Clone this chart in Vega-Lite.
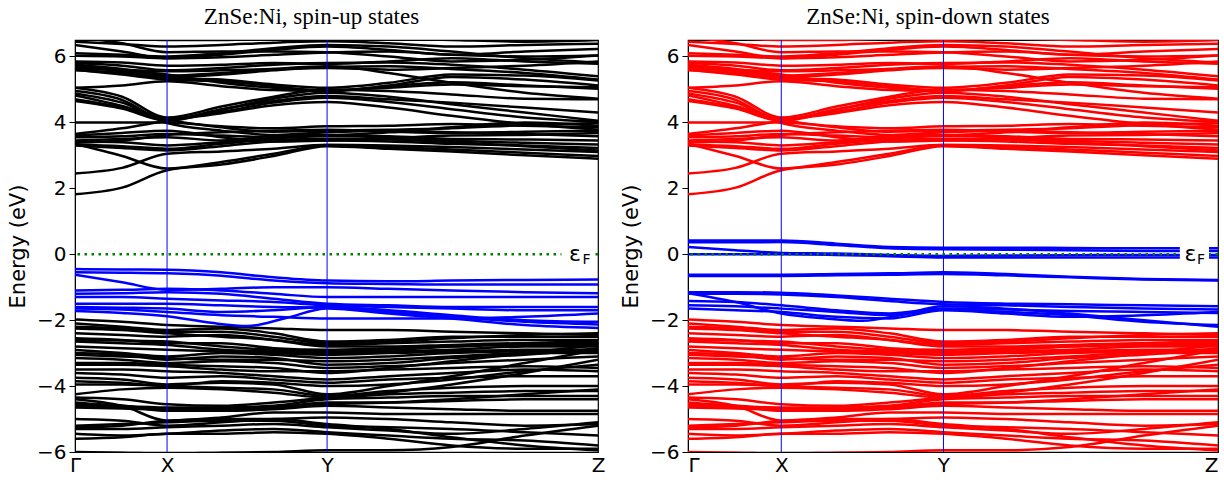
{
"$schema": "https://vega.github.io/schema/vega-lite/v6.json",
"background": "white",
"padding": {"left": 6, "top": 4, "right": 6, "bottom": 2},
"spacing": 13,
"config": {
  "view": {"stroke": "black", "strokeWidth": 1.2},
  "axis": {"labelFont": "DejaVu Sans", "labelFontSize": 20, "labelColor": "black", "titleFont": "DejaVu Sans", "titleFontSize": 21, "titleFontWeight": "normal", "titleColor": "black", "domainColor": "black", "tickColor": "black", "grid": false},
  "title": {"font": "Liberation Serif", "fontSize": 23, "fontWeight": "normal", "color": "black"}
},
"datasets": {
"host": [
{"b":"c1","k":0,"e":1.82},{"b":"c1","k":0.09,"e":2.02},{"b":"c1","k":0.176,"e":2.55},{"b":"c1","k":0.28,"e":2.72},{"b":"c1","k":0.38,"e":2.98},{"b":"c1","k":0.482,"e":3.28},{"b":"c1","k":0.6,"e":3.2},{"b":"c1","k":0.72,"e":3.12},{"b":"c1","k":0.86,"e":3.0},{"b":"c1","k":1,"e":2.9},
{"b":"c2","k":0,"e":3.35},{"b":"c2","k":0.09,"e":2.98},{"b":"c2","k":0.176,"e":2.6},{"b":"c2","k":0.28,"e":2.8},{"b":"c2","k":0.38,"e":3.05},{"b":"c2","k":0.482,"e":3.3},{"b":"c2","k":0.6,"e":3.25},{"b":"c2","k":0.72,"e":3.18},{"b":"c2","k":0.86,"e":3.08},{"b":"c2","k":1,"e":2.98},
{"b":"c3","k":0,"e":2.45},{"b":"c3","k":0.09,"e":2.62},{"b":"c3","k":0.176,"e":3.05},{"b":"c3","k":0.28,"e":3.12},{"b":"c3","k":0.38,"e":3.2},{"b":"c3","k":0.482,"e":3.32},{"b":"c3","k":0.6,"e":3.3},{"b":"c3","k":0.72,"e":3.25},{"b":"c3","k":0.86,"e":3.18},{"b":"c3","k":1,"e":3.1},
{"b":"c4","k":0,"e":3.3},{"b":"c4","k":0.09,"e":3.22},{"b":"c4","k":0.176,"e":3.15},{"b":"c4","k":0.28,"e":3.28},{"b":"c4","k":0.38,"e":3.42},{"b":"c4","k":0.482,"e":3.45},{"b":"c4","k":0.6,"e":3.42},{"b":"c4","k":0.72,"e":3.35},{"b":"c4","k":0.86,"e":3.3},{"b":"c4","k":1,"e":3.22},
{"b":"c5","k":0,"e":3.42},{"b":"c5","k":0.09,"e":3.4},{"b":"c5","k":0.176,"e":3.3},{"b":"c5","k":0.28,"e":3.4},{"b":"c5","k":0.38,"e":3.52},{"b":"c5","k":0.482,"e":3.58},{"b":"c5","k":0.6,"e":3.55},{"b":"c5","k":0.72,"e":3.45},{"b":"c5","k":0.86,"e":3.38},{"b":"c5","k":1,"e":3.33},
{"b":"c6","k":0,"e":3.55},{"b":"c6","k":0.09,"e":3.58},{"b":"c6","k":0.176,"e":3.65},{"b":"c6","k":0.28,"e":3.6},{"b":"c6","k":0.38,"e":3.55},{"b":"c6","k":0.482,"e":3.6},{"b":"c6","k":0.6,"e":3.58},{"b":"c6","k":0.72,"e":3.5},{"b":"c6","k":0.86,"e":3.48},{"b":"c6","k":1,"e":3.45},
{"b":"c7","k":0,"e":3.6},{"b":"c7","k":0.09,"e":3.68},{"b":"c7","k":0.176,"e":3.75},{"b":"c7","k":0.28,"e":3.55},{"b":"c7","k":0.38,"e":3.42},{"b":"c7","k":0.482,"e":3.45},{"b":"c7","k":0.6,"e":3.52},{"b":"c7","k":0.72,"e":3.6},{"b":"c7","k":0.86,"e":3.62},{"b":"c7","k":1,"e":3.68},
{"b":"c8","k":0,"e":3.65},{"b":"c8","k":0.09,"e":3.82},{"b":"c8","k":0.176,"e":4.05},{"b":"c8","k":0.28,"e":4.28},{"b":"c8","k":0.38,"e":4.52},{"b":"c8","k":0.482,"e":4.62},{"b":"c8","k":0.6,"e":4.45},{"b":"c8","k":0.72,"e":4.2},{"b":"c8","k":0.86,"e":3.95},{"b":"c8","k":1,"e":3.78},
{"b":"c9","k":0,"e":4.0},{"b":"c9","k":0.09,"e":4.0},{"b":"c9","k":0.176,"e":4.0},{"b":"c9","k":0.28,"e":3.88},{"b":"c9","k":0.38,"e":3.82},{"b":"c9","k":0.482,"e":3.88},{"b":"c9","k":0.6,"e":3.9},{"b":"c9","k":0.72,"e":3.95},{"b":"c9","k":0.86,"e":3.9},{"b":"c9","k":1,"e":3.85},
{"b":"c10","k":0,"e":4.82},{"b":"c10","k":0.09,"e":4.5},{"b":"c10","k":0.176,"e":4.1},{"b":"c10","k":0.28,"e":3.85},{"b":"c10","k":0.38,"e":3.72},{"b":"c10","k":0.482,"e":3.75},{"b":"c10","k":0.6,"e":3.78},{"b":"c10","k":0.72,"e":3.82},{"b":"c10","k":0.86,"e":3.92},{"b":"c10","k":1,"e":3.98},
{"b":"c11","k":0,"e":4.88},{"b":"c11","k":0.09,"e":4.6},{"b":"c11","k":0.176,"e":4.1},{"b":"c11","k":0.28,"e":4.32},{"b":"c11","k":0.38,"e":4.6},{"b":"c11","k":0.482,"e":4.75},{"b":"c11","k":0.6,"e":4.62},{"b":"c11","k":0.72,"e":4.4},{"b":"c11","k":0.86,"e":4.15},{"b":"c11","k":1,"e":4.02},
{"b":"c12","k":0,"e":4.65},{"b":"c12","k":0.09,"e":4.42},{"b":"c12","k":0.176,"e":4.05},{"b":"c12","k":0.28,"e":4.38},{"b":"c12","k":0.38,"e":4.72},{"b":"c12","k":0.482,"e":4.9},{"b":"c12","k":0.6,"e":4.78},{"b":"c12","k":0.72,"e":4.55},{"b":"c12","k":0.86,"e":4.3},{"b":"c12","k":1,"e":4.05},
{"b":"c13","k":0,"e":5.05},{"b":"c13","k":0.09,"e":4.78},{"b":"c13","k":0.176,"e":4.15},{"b":"c13","k":0.28,"e":4.48},{"b":"c13","k":0.38,"e":4.78},{"b":"c13","k":0.482,"e":5.0},{"b":"c13","k":0.6,"e":4.95},{"b":"c13","k":0.72,"e":4.85},{"b":"c13","k":0.86,"e":4.72},{"b":"c13","k":1,"e":4.7},
{"b":"c14","k":0,"e":4.95},{"b":"c14","k":0.09,"e":4.68},{"b":"c14","k":0.176,"e":3.98},{"b":"c14","k":0.28,"e":3.75},{"b":"c14","k":0.38,"e":3.62},{"b":"c14","k":0.482,"e":3.62},{"b":"c14","k":0.6,"e":3.7},{"b":"c14","k":0.72,"e":3.85},{"b":"c14","k":0.86,"e":4.0},{"b":"c14","k":1,"e":3.9},
{"b":"c15","k":0,"e":5.05},{"b":"c15","k":0.09,"e":5.12},{"b":"c15","k":0.176,"e":5.25},{"b":"c15","k":0.28,"e":5.1},{"b":"c15","k":0.38,"e":4.98},{"b":"c15","k":0.482,"e":4.95},{"b":"c15","k":0.6,"e":5.1},{"b":"c15","k":0.72,"e":5.22},{"b":"c15","k":0.86,"e":5.12},{"b":"c15","k":1,"e":5.02},
{"b":"c16","k":0,"e":5.6},{"b":"c16","k":0.09,"e":5.45},{"b":"c16","k":0.176,"e":5.3},{"b":"c16","k":0.28,"e":5.25},{"b":"c16","k":0.38,"e":5.1},{"b":"c16","k":0.482,"e":4.95},{"b":"c16","k":0.6,"e":5.12},{"b":"c16","k":0.72,"e":5.38},{"b":"c16","k":0.86,"e":5.3},{"b":"c16","k":1,"e":5.12},
{"b":"c17","k":0,"e":5.68},{"b":"c17","k":0.09,"e":5.55},{"b":"c17","k":0.176,"e":5.35},{"b":"c17","k":0.28,"e":5.3},{"b":"c17","k":0.38,"e":5.15},{"b":"c17","k":0.482,"e":5.05},{"b":"c17","k":0.6,"e":5.2},{"b":"c17","k":0.72,"e":5.45},{"b":"c17","k":0.86,"e":5.42},{"b":"c17","k":1,"e":5.27},
{"b":"c18","k":0,"e":5.75},{"b":"c18","k":0.09,"e":5.62},{"b":"c18","k":0.176,"e":5.42},{"b":"c18","k":0.28,"e":5.5},{"b":"c18","k":0.38,"e":5.62},{"b":"c18","k":0.482,"e":5.7},{"b":"c18","k":0.6,"e":5.5},{"b":"c18","k":0.72,"e":5.2},{"b":"c18","k":0.86,"e":4.9},{"b":"c18","k":1,"e":4.72},
{"b":"c19","k":0,"e":5.8},{"b":"c19","k":0.09,"e":5.72},{"b":"c19","k":0.176,"e":5.58},{"b":"c19","k":0.28,"e":5.65},{"b":"c19","k":0.38,"e":5.75},{"b":"c19","k":0.482,"e":5.8},{"b":"c19","k":0.6,"e":5.82},{"b":"c19","k":0.72,"e":5.75},{"b":"c19","k":0.86,"e":5.6},{"b":"c19","k":1,"e":5.4},
{"b":"c20","k":0,"e":5.85},{"b":"c20","k":0.09,"e":5.82},{"b":"c20","k":0.176,"e":5.72},{"b":"c20","k":0.28,"e":5.75},{"b":"c20","k":0.38,"e":5.8},{"b":"c20","k":0.482,"e":5.78},{"b":"c20","k":0.6,"e":5.85},{"b":"c20","k":0.72,"e":5.95},{"b":"c20","k":0.86,"e":5.85},{"b":"c20","k":1,"e":5.78},
{"b":"c21","k":0,"e":6.02},{"b":"c21","k":0.09,"e":6.0},{"b":"c21","k":0.176,"e":5.95},{"b":"c21","k":0.28,"e":5.98},{"b":"c21","k":0.38,"e":6.05},{"b":"c21","k":0.482,"e":6.12},{"b":"c21","k":0.6,"e":6.15},{"b":"c21","k":0.72,"e":6.05},{"b":"c21","k":0.86,"e":6.0},{"b":"c21","k":1,"e":6.03},
{"b":"c22","k":0,"e":6.35},{"b":"c22","k":0.09,"e":6.15},{"b":"c22","k":0.176,"e":5.95},{"b":"c22","k":0.28,"e":6.05},{"b":"c22","k":0.38,"e":6.2},{"b":"c22","k":0.482,"e":6.3},{"b":"c22","k":0.6,"e":6.2},{"b":"c22","k":0.72,"e":6.05},{"b":"c22","k":0.86,"e":6.15},{"b":"c22","k":1,"e":6.23},
{"b":"c23","k":0,"e":6.45},{"b":"c23","k":0.09,"e":6.38},{"b":"c23","k":0.176,"e":6.3},{"b":"c23","k":0.28,"e":6.35},{"b":"c23","k":0.38,"e":6.42},{"b":"c23","k":0.482,"e":6.46},{"b":"c23","k":0.6,"e":6.4},{"b":"c23","k":0.72,"e":6.3},{"b":"c23","k":0.86,"e":6.35},{"b":"c23","k":1,"e":6.39},
{"b":"c24","k":0,"e":6.6},{"b":"c24","k":0.09,"e":6.55},{"b":"c24","k":0.176,"e":6.5},{"b":"c24","k":0.28,"e":6.5},{"b":"c24","k":0.38,"e":6.55},{"b":"c24","k":0.482,"e":6.6},{"b":"c24","k":0.6,"e":6.55},{"b":"c24","k":0.72,"e":6.5},{"b":"c24","k":0.86,"e":6.45},{"b":"c24","k":1,"e":6.5},
{"b":"c25","k":0,"e":6.6},{"b":"c25","k":0.09,"e":6.4},{"b":"c25","k":0.176,"e":6.13},{"b":"c25","k":0.28,"e":6.15},{"b":"c25","k":0.38,"e":6.15},{"b":"c25","k":0.482,"e":6.13},{"b":"c25","k":0.6,"e":6.0},{"b":"c25","k":0.72,"e":5.85},{"b":"c25","k":0.86,"e":5.9},{"b":"c25","k":1,"e":6.03},
{"b":"c26","k":0,"e":3.32},{"b":"c26","k":0.09,"e":3.28},{"b":"c26","k":0.176,"e":3.2},{"b":"c26","k":0.28,"e":3.35},{"b":"c26","k":0.38,"e":3.48},{"b":"c26","k":0.482,"e":3.5},{"b":"c26","k":0.6,"e":3.48},{"b":"c26","k":0.72,"e":3.4},{"b":"c26","k":0.86,"e":3.28},{"b":"c26","k":1,"e":3.15},
{"b":"c27","k":0,"e":3.45},{"b":"c27","k":0.09,"e":3.5},{"b":"c27","k":0.176,"e":3.55},{"b":"c27","k":0.28,"e":3.45},{"b":"c27","k":0.38,"e":3.6},{"b":"c27","k":0.482,"e":3.7},{"b":"c27","k":0.6,"e":3.75},{"b":"c27","k":0.72,"e":3.7},{"b":"c27","k":0.86,"e":3.65},{"b":"c27","k":1,"e":3.58},
{"b":"c28","k":0,"e":4.7},{"b":"c28","k":0.09,"e":4.45},{"b":"c28","k":0.176,"e":4.08},{"b":"c28","k":0.28,"e":4.4},{"b":"c28","k":0.38,"e":4.65},{"b":"c28","k":0.482,"e":4.8},{"b":"c28","k":0.6,"e":4.7},{"b":"c28","k":0.72,"e":4.6},{"b":"c28","k":0.86,"e":4.45},{"b":"c28","k":1,"e":4.3},
{"b":"c29","k":0,"e":5.58},{"b":"c29","k":0.09,"e":5.5},{"b":"c29","k":0.176,"e":5.38},{"b":"c29","k":0.28,"e":5.45},{"b":"c29","k":0.38,"e":5.58},{"b":"c29","k":0.482,"e":5.68},{"b":"c29","k":0.6,"e":5.7},{"b":"c29","k":0.72,"e":5.62},{"b":"c29","k":0.86,"e":5.5},{"b":"c29","k":1,"e":5.3},
{"b":"c30","k":0,"e":5.72},{"b":"c30","k":0.09,"e":5.6},{"b":"c30","k":0.176,"e":5.45},{"b":"c30","k":0.28,"e":5.2},{"b":"c30","k":0.38,"e":5.05},{"b":"c30","k":0.482,"e":4.98},{"b":"c30","k":0.6,"e":5.05},{"b":"c30","k":0.72,"e":5.15},{"b":"c30","k":0.86,"e":5.1},{"b":"c30","k":1,"e":5.07},
{"b":"c31","k":0,"e":6.1},{"b":"c31","k":0.09,"e":6.05},{"b":"c31","k":0.176,"e":6.0},{"b":"c31","k":0.28,"e":6.1},{"b":"c31","k":0.38,"e":6.25},{"b":"c31","k":0.482,"e":6.35},{"b":"c31","k":0.6,"e":6.3},{"b":"c31","k":0.72,"e":6.15},{"b":"c31","k":0.86,"e":5.95},{"b":"c31","k":1,"e":5.82},
{"b":"c32","k":0,"e":3.38},{"b":"c32","k":0.09,"e":3.45},{"b":"c32","k":0.176,"e":3.62},{"b":"c32","k":0.28,"e":3.7},{"b":"c32","k":0.38,"e":3.75},{"b":"c32","k":0.482,"e":3.78},{"b":"c32","k":0.6,"e":3.72},{"b":"c32","k":0.72,"e":3.68},{"b":"c32","k":0.86,"e":3.72},{"b":"c32","k":1,"e":3.75},
{"b":"c33","k":0,"e":5.62},{"b":"c33","k":0.09,"e":5.6},{"b":"c33","k":0.176,"e":5.55},{"b":"c33","k":0.28,"e":5.58},{"b":"c33","k":0.38,"e":5.62},{"b":"c33","k":0.482,"e":5.65},{"b":"c33","k":0.6,"e":5.6},{"b":"c33","k":0.72,"e":5.65},{"b":"c33","k":0.86,"e":5.72},{"b":"c33","k":1,"e":5.85},
{"b":"v1","k":0,"e":-1.98},{"b":"v1","k":0.09,"e":-2.05},{"b":"v1","k":0.176,"e":-2.15},{"b":"v1","k":0.28,"e":-2.2},{"b":"v1","k":0.38,"e":-2.25},{"b":"v1","k":0.482,"e":-2.3},{"b":"v1","k":0.6,"e":-2.3},{"b":"v1","k":0.72,"e":-2.35},{"b":"v1","k":0.86,"e":-2.4},{"b":"v1","k":1,"e":-2.45},
{"b":"v2","k":0,"e":-2.1},{"b":"v2","k":0.09,"e":-2.2},{"b":"v2","k":0.176,"e":-2.3},{"b":"v2","k":0.28,"e":-2.25},{"b":"v2","k":0.38,"e":-2.4},{"b":"v2","k":0.482,"e":-2.65},{"b":"v2","k":0.6,"e":-2.6},{"b":"v2","k":0.72,"e":-2.5},{"b":"v2","k":0.86,"e":-2.5},{"b":"v2","k":1,"e":-2.5},
{"b":"v3","k":0,"e":-2.25},{"b":"v3","k":0.09,"e":-2.3},{"b":"v3","k":0.176,"e":-2.4},{"b":"v3","k":0.28,"e":-2.5},{"b":"v3","k":0.38,"e":-2.6},{"b":"v3","k":0.482,"e":-2.75},{"b":"v3","k":0.6,"e":-2.7},{"b":"v3","k":0.72,"e":-2.65},{"b":"v3","k":0.86,"e":-2.6},{"b":"v3","k":1,"e":-2.6},
{"b":"v4","k":0,"e":-2.4},{"b":"v4","k":0.09,"e":-2.45},{"b":"v4","k":0.176,"e":-2.5},{"b":"v4","k":0.28,"e":-2.45},{"b":"v4","k":0.38,"e":-2.6},{"b":"v4","k":0.482,"e":-2.8},{"b":"v4","k":0.6,"e":-2.8},{"b":"v4","k":0.72,"e":-2.75},{"b":"v4","k":0.86,"e":-2.7},{"b":"v4","k":1,"e":-2.7},
{"b":"v5","k":0,"e":-2.55},{"b":"v5","k":0.09,"e":-2.6},{"b":"v5","k":0.176,"e":-2.7},{"b":"v5","k":0.28,"e":-2.7},{"b":"v5","k":0.38,"e":-2.85},{"b":"v5","k":0.482,"e":-2.9},{"b":"v5","k":0.6,"e":-2.85},{"b":"v5","k":0.72,"e":-2.8},{"b":"v5","k":0.86,"e":-2.75},{"b":"v5","k":1,"e":-2.75},
{"b":"v6","k":0,"e":-2.65},{"b":"v6","k":0.09,"e":-2.7},{"b":"v6","k":0.176,"e":-2.75},{"b":"v6","k":0.28,"e":-2.9},{"b":"v6","k":0.38,"e":-2.95},{"b":"v6","k":0.482,"e":-3.0},{"b":"v6","k":0.6,"e":-2.95},{"b":"v6","k":0.72,"e":-2.9},{"b":"v6","k":0.86,"e":-2.8},{"b":"v6","k":1,"e":-2.8},
{"b":"v7","k":0,"e":-2.8},{"b":"v7","k":0.09,"e":-2.85},{"b":"v7","k":0.176,"e":-2.9},{"b":"v7","k":0.28,"e":-2.95},{"b":"v7","k":0.38,"e":-3.0},{"b":"v7","k":0.482,"e":-3.05},{"b":"v7","k":0.6,"e":-3.0},{"b":"v7","k":0.72,"e":-2.95},{"b":"v7","k":0.86,"e":-2.9},{"b":"v7","k":1,"e":-2.9},
{"b":"v8","k":0,"e":-2.9},{"b":"v8","k":0.09,"e":-3.0},{"b":"v8","k":0.176,"e":-3.1},{"b":"v8","k":0.28,"e":-3.0},{"b":"v8","k":0.38,"e":-3.05},{"b":"v8","k":0.482,"e":-3.15},{"b":"v8","k":0.6,"e":-3.1},{"b":"v8","k":0.72,"e":-3.0},{"b":"v8","k":0.86,"e":-2.95},{"b":"v8","k":1,"e":-2.95},
{"b":"v9","k":0,"e":-3.05},{"b":"v9","k":0.09,"e":-3.1},{"b":"v9","k":0.176,"e":-3.15},{"b":"v9","k":0.28,"e":-3.2},{"b":"v9","k":0.38,"e":-3.2},{"b":"v9","k":0.482,"e":-3.25},{"b":"v9","k":0.6,"e":-3.2},{"b":"v9","k":0.72,"e":-3.1},{"b":"v9","k":0.86,"e":-3.0},{"b":"v9","k":1,"e":-3.0},
{"b":"v10","k":0,"e":-3.15},{"b":"v10","k":0.09,"e":-3.2},{"b":"v10","k":0.176,"e":-3.3},{"b":"v10","k":0.28,"e":-3.25},{"b":"v10","k":0.38,"e":-3.3},{"b":"v10","k":0.482,"e":-3.45},{"b":"v10","k":0.6,"e":-3.4},{"b":"v10","k":0.72,"e":-3.3},{"b":"v10","k":0.86,"e":-3.2},{"b":"v10","k":1,"e":-3.1},
{"b":"v11","k":0,"e":-3.35},{"b":"v11","k":0.09,"e":-3.35},{"b":"v11","k":0.176,"e":-3.4},{"b":"v11","k":0.28,"e":-3.5},{"b":"v11","k":0.38,"e":-3.55},{"b":"v11","k":0.482,"e":-3.55},{"b":"v11","k":0.6,"e":-3.5},{"b":"v11","k":0.72,"e":-3.45},{"b":"v11","k":0.86,"e":-3.4},{"b":"v11","k":1,"e":-3.45},
{"b":"v12","k":0,"e":-3.5},{"b":"v12","k":0.09,"e":-3.5},{"b":"v12","k":0.176,"e":-3.55},{"b":"v12","k":0.28,"e":-3.6},{"b":"v12","k":0.38,"e":-3.7},{"b":"v12","k":0.482,"e":-3.8},{"b":"v12","k":0.6,"e":-3.7},{"b":"v12","k":0.72,"e":-3.6},{"b":"v12","k":0.86,"e":-3.5},{"b":"v12","k":1,"e":-3.55},
{"b":"v13","k":0,"e":-3.6},{"b":"v13","k":0.09,"e":-3.65},{"b":"v13","k":0.176,"e":-3.75},{"b":"v13","k":0.28,"e":-3.7},{"b":"v13","k":0.38,"e":-3.8},{"b":"v13","k":0.482,"e":-3.9},{"b":"v13","k":0.6,"e":-3.8},{"b":"v13","k":0.72,"e":-3.75},{"b":"v13","k":0.86,"e":-3.7},{"b":"v13","k":1,"e":-3.7},
{"b":"v14","k":0,"e":-3.75},{"b":"v14","k":0.09,"e":-3.8},{"b":"v14","k":0.176,"e":-3.95},{"b":"v14","k":0.28,"e":-3.9},{"b":"v14","k":0.38,"e":-3.95},{"b":"v14","k":0.482,"e":-4.25},{"b":"v14","k":0.6,"e":-4.0},{"b":"v14","k":0.72,"e":-3.7},{"b":"v14","k":0.86,"e":-3.3},{"b":"v14","k":1,"e":-2.9},
{"b":"v15","k":0,"e":-3.95},{"b":"v15","k":0.09,"e":-3.95},{"b":"v15","k":0.176,"e":-4.0},{"b":"v15","k":0.28,"e":-4.05},{"b":"v15","k":0.38,"e":-4.1},{"b":"v15","k":0.482,"e":-4.3},{"b":"v15","k":0.6,"e":-4.15},{"b":"v15","k":0.72,"e":-4.05},{"b":"v15","k":0.86,"e":-4.0},{"b":"v15","k":1,"e":-4.0},
{"b":"v16","k":0,"e":-4.25},{"b":"v16","k":0.09,"e":-4.1},{"b":"v16","k":0.176,"e":-4.05},{"b":"v16","k":0.28,"e":-4.1},{"b":"v16","k":0.38,"e":-4.2},{"b":"v16","k":0.482,"e":-4.35},{"b":"v16","k":0.6,"e":-4.25},{"b":"v16","k":0.72,"e":-4.2},{"b":"v16","k":0.86,"e":-4.15},{"b":"v16","k":1,"e":-4.15},
{"b":"v17","k":0,"e":-4.35},{"b":"v17","k":0.09,"e":-4.4},{"b":"v17","k":0.176,"e":-4.55},{"b":"v17","k":0.28,"e":-4.6},{"b":"v17","k":0.38,"e":-4.5},{"b":"v17","k":0.482,"e":-4.35},{"b":"v17","k":0.6,"e":-4.2},{"b":"v17","k":0.72,"e":-3.95},{"b":"v17","k":0.86,"e":-3.6},{"b":"v17","k":1,"e":-3.2},
{"b":"v18","k":0,"e":-4.5},{"b":"v18","k":0.09,"e":-4.6},{"b":"v18","k":0.176,"e":-4.65},{"b":"v18","k":0.28,"e":-4.65},{"b":"v18","k":0.38,"e":-4.6},{"b":"v18","k":0.482,"e":-4.4},{"b":"v18","k":0.6,"e":-4.35},{"b":"v18","k":0.72,"e":-4.3},{"b":"v18","k":0.86,"e":-4.3},{"b":"v18","k":1,"e":-4.3},
{"b":"v19","k":0,"e":-4.6},{"b":"v19","k":0.09,"e":-4.65},{"b":"v19","k":0.176,"e":-4.7},{"b":"v19","k":0.28,"e":-4.7},{"b":"v19","k":0.38,"e":-4.65},{"b":"v19","k":0.482,"e":-4.5},{"b":"v19","k":0.6,"e":-4.5},{"b":"v19","k":0.72,"e":-4.45},{"b":"v19","k":0.86,"e":-4.4},{"b":"v19","k":1,"e":-4.4},
{"b":"v20","k":0,"e":-4.55},{"b":"v20","k":0.09,"e":-4.6},{"b":"v20","k":0.176,"e":-4.75},{"b":"v20","k":0.28,"e":-4.75},{"b":"v20","k":0.38,"e":-4.7},{"b":"v20","k":0.482,"e":-4.6},{"b":"v20","k":0.6,"e":-4.65},{"b":"v20","k":0.72,"e":-4.7},{"b":"v20","k":0.86,"e":-4.75},{"b":"v20","k":1,"e":-4.75},
{"b":"v21","k":0,"e":-4.4},{"b":"v21","k":0.09,"e":-4.6},{"b":"v21","k":0.176,"e":-5.05},{"b":"v21","k":0.28,"e":-4.95},{"b":"v21","k":0.38,"e":-4.8},{"b":"v21","k":0.482,"e":-4.8},{"b":"v21","k":0.6,"e":-4.85},{"b":"v21","k":0.72,"e":-4.85},{"b":"v21","k":0.86,"e":-4.85},{"b":"v21","k":1,"e":-4.85},
{"b":"v22","k":0,"e":-5.25},{"b":"v22","k":0.09,"e":-5.2},{"b":"v22","k":0.176,"e":-5.05},{"b":"v22","k":0.28,"e":-5.0},{"b":"v22","k":0.38,"e":-5.0},{"b":"v22","k":0.482,"e":-5.15},{"b":"v22","k":0.6,"e":-5.3},{"b":"v22","k":0.72,"e":-5.55},{"b":"v22","k":0.86,"e":-5.8},{"b":"v22","k":1,"e":-5.95},
{"b":"v23","k":0,"e":-5.3},{"b":"v23","k":0.09,"e":-5.3},{"b":"v23","k":0.176,"e":-5.25},{"b":"v23","k":0.28,"e":-5.2},{"b":"v23","k":0.38,"e":-5.15},{"b":"v23","k":0.482,"e":-5.25},{"b":"v23","k":0.6,"e":-5.35},{"b":"v23","k":0.72,"e":-5.45},{"b":"v23","k":0.86,"e":-5.3},{"b":"v23","k":1,"e":-5.1},
{"b":"v24","k":0,"e":-5.45},{"b":"v24","k":0.09,"e":-5.5},{"b":"v24","k":0.176,"e":-5.45},{"b":"v24","k":0.28,"e":-5.35},{"b":"v24","k":0.38,"e":-5.3},{"b":"v24","k":0.482,"e":-5.4},{"b":"v24","k":0.6,"e":-5.5},{"b":"v24","k":0.72,"e":-5.6},{"b":"v24","k":0.86,"e":-5.65},{"b":"v24","k":1,"e":-5.8},
{"b":"v25","k":0,"e":-5.6},{"b":"v25","k":0.09,"e":-5.55},{"b":"v25","k":0.176,"e":-5.45},{"b":"v25","k":0.28,"e":-5.45},{"b":"v25","k":0.38,"e":-5.4},{"b":"v25","k":0.482,"e":-5.45},{"b":"v25","k":0.6,"e":-5.6},{"b":"v25","k":0.72,"e":-5.8},{"b":"v25","k":0.86,"e":-5.9},{"b":"v25","k":1,"e":-5.9},
{"b":"v26","k":0,"e":-6.0},{"b":"v26","k":0.09,"e":-6.02},{"b":"v26","k":0.176,"e":-6.05},{"b":"v26","k":0.28,"e":-6.02},{"b":"v26","k":0.38,"e":-6.0},{"b":"v26","k":0.482,"e":-5.95},{"b":"v26","k":0.6,"e":-5.95},{"b":"v26","k":0.72,"e":-5.85},{"b":"v26","k":0.86,"e":-5.5},{"b":"v26","k":1,"e":-5.2},
{"b":"v27","k":0,"e":-5.0},{"b":"v27","k":0.09,"e":-5.05},{"b":"v27","k":0.176,"e":-5.2},{"b":"v27","k":0.28,"e":-5.1},{"b":"v27","k":0.38,"e":-5.0},{"b":"v27","k":0.482,"e":-4.95},{"b":"v27","k":0.6,"e":-5.0},{"b":"v27","k":0.72,"e":-5.1},{"b":"v27","k":0.86,"e":-5.2},{"b":"v27","k":1,"e":-5.15},
{"b":"v28","k":0,"e":-3.3},{"b":"v28","k":0.09,"e":-3.3},{"b":"v28","k":0.176,"e":-3.35},{"b":"v28","k":0.28,"e":-3.4},{"b":"v28","k":0.38,"e":-3.45},{"b":"v28","k":0.482,"e":-3.6},{"b":"v28","k":0.6,"e":-3.45},{"b":"v28","k":0.72,"e":-3.25},{"b":"v28","k":0.86,"e":-3.0},{"b":"v28","k":1,"e":-2.75},
{"b":"v29","k":0,"e":-2.2},{"b":"v29","k":0.09,"e":-2.25},{"b":"v29","k":0.176,"e":-2.35},{"b":"v29","k":0.28,"e":-2.35},{"b":"v29","k":0.38,"e":-2.5},{"b":"v29","k":0.482,"e":-2.7},{"b":"v29","k":0.6,"e":-2.65},{"b":"v29","k":0.72,"e":-2.55},{"b":"v29","k":0.86,"e":-2.45},{"b":"v29","k":1,"e":-2.4},
{"b":"v30","k":0,"e":-2.6},{"b":"v30","k":0.09,"e":-2.62},{"b":"v30","k":0.176,"e":-2.65},{"b":"v30","k":0.28,"e":-2.8},{"b":"v30","k":0.38,"e":-2.9},{"b":"v30","k":0.482,"e":-2.95},{"b":"v30","k":0.6,"e":-2.9},{"b":"v30","k":0.72,"e":-2.8},{"b":"v30","k":0.86,"e":-2.7},{"b":"v30","k":1,"e":-2.65},
{"b":"v31","k":0,"e":-3.0},{"b":"v31","k":0.09,"e":-3.05},{"b":"v31","k":0.176,"e":-3.2},{"b":"v31","k":0.28,"e":-3.1},{"b":"v31","k":0.38,"e":-3.15},{"b":"v31","k":0.482,"e":-3.35},{"b":"v31","k":0.6,"e":-3.3},{"b":"v31","k":0.72,"e":-3.15},{"b":"v31","k":0.86,"e":-3.05},{"b":"v31","k":1,"e":-2.85},
{"b":"v32","k":0,"e":-3.85},{"b":"v32","k":0.09,"e":-3.9},{"b":"v32","k":0.176,"e":-4.0},{"b":"v32","k":0.28,"e":-3.85},{"b":"v32","k":0.38,"e":-3.9},{"b":"v32","k":0.482,"e":-4.0},{"b":"v32","k":0.6,"e":-3.95},{"b":"v32","k":0.72,"e":-3.8},{"b":"v32","k":0.86,"e":-3.55},{"b":"v32","k":1,"e":-3.35},
{"b":"v33","k":0,"e":-4.65},{"b":"v33","k":0.09,"e":-4.68},{"b":"v33","k":0.176,"e":-4.72},{"b":"v33","k":0.28,"e":-4.72},{"b":"v33","k":0.38,"e":-4.68},{"b":"v33","k":0.482,"e":-4.55},{"b":"v33","k":0.6,"e":-4.5},{"b":"v33","k":0.72,"e":-4.4},{"b":"v33","k":0.86,"e":-4.25},{"b":"v33","k":1,"e":-4.1},
{"b":"v34","k":0,"e":-5.2},{"b":"v34","k":0.09,"e":-5.15},{"b":"v34","k":0.176,"e":-5.1},{"b":"v34","k":0.28,"e":-5.05},{"b":"v34","k":0.38,"e":-5.05},{"b":"v34","k":0.482,"e":-5.2},{"b":"v34","k":0.6,"e":-5.25},{"b":"v34","k":0.72,"e":-5.3},{"b":"v34","k":0.86,"e":-5.4},{"b":"v34","k":1,"e":-5.5}
],
"up": [
{"b":"d1","k":0,"e":-0.45},{"b":"d1","k":0.09,"e":-0.46},{"b":"d1","k":0.176,"e":-0.47},{"b":"d1","k":0.28,"e":-0.55},{"b":"d1","k":0.38,"e":-0.7},{"b":"d1","k":0.482,"e":-0.8},{"b":"d1","k":0.6,"e":-0.82},{"b":"d1","k":0.72,"e":-0.8},{"b":"d1","k":0.86,"e":-0.78},{"b":"d1","k":1,"e":-0.77},
{"b":"d2","k":0,"e":-0.55},{"b":"d2","k":0.09,"e":-0.56},{"b":"d2","k":0.176,"e":-0.58},{"b":"d2","k":0.28,"e":-0.65},{"b":"d2","k":0.38,"e":-0.8},{"b":"d2","k":0.482,"e":-0.88},{"b":"d2","k":0.6,"e":-0.9},{"b":"d2","k":0.72,"e":-0.92},{"b":"d2","k":0.86,"e":-0.92},{"b":"d2","k":1,"e":-0.92},
{"b":"d3","k":0,"e":-0.62},{"b":"d3","k":0.09,"e":-0.85},{"b":"d3","k":0.176,"e":-1.08},{"b":"d3","k":0.28,"e":-1.05},{"b":"d3","k":0.38,"e":-1.0},{"b":"d3","k":0.482,"e":-1.0},{"b":"d3","k":0.6,"e":-1.05},{"b":"d3","k":0.72,"e":-1.1},{"b":"d3","k":0.86,"e":-1.15},{"b":"d3","k":1,"e":-1.18},
{"b":"d4","k":0,"e":-1.1},{"b":"d4","k":0.09,"e":-1.08},{"b":"d4","k":0.176,"e":-1.05},{"b":"d4","k":0.28,"e":-1.1},{"b":"d4","k":0.38,"e":-1.2},{"b":"d4","k":0.482,"e":-1.3},{"b":"d4","k":0.6,"e":-1.3},{"b":"d4","k":0.72,"e":-1.3},{"b":"d4","k":0.86,"e":-1.3},{"b":"d4","k":1,"e":-1.3},
{"b":"d5","k":0,"e":-1.2},{"b":"d5","k":0.09,"e":-1.18},{"b":"d5","k":0.176,"e":-1.15},{"b":"d5","k":0.28,"e":-1.2},{"b":"d5","k":0.38,"e":-1.35},{"b":"d5","k":0.482,"e":-1.5},{"b":"d5","k":0.6,"e":-1.55},{"b":"d5","k":0.72,"e":-1.6},{"b":"d5","k":0.86,"e":-1.6},{"b":"d5","k":1,"e":-1.6},
{"b":"d6","k":0,"e":-1.3},{"b":"d6","k":0.09,"e":-1.3},{"b":"d6","k":0.176,"e":-1.35},{"b":"d6","k":0.28,"e":-1.4},{"b":"d6","k":0.38,"e":-1.45},{"b":"d6","k":0.482,"e":-1.55},{"b":"d6","k":0.6,"e":-1.6},{"b":"d6","k":0.72,"e":-1.65},{"b":"d6","k":0.86,"e":-1.7},{"b":"d6","k":1,"e":-1.7},
{"b":"d7","k":0,"e":-1.5},{"b":"d7","k":0.09,"e":-1.5},{"b":"d7","k":0.176,"e":-1.5},{"b":"d7","k":0.28,"e":-1.55},{"b":"d7","k":0.38,"e":-1.6},{"b":"d7","k":0.482,"e":-1.62},{"b":"d7","k":0.6,"e":-1.75},{"b":"d7","k":0.72,"e":-1.9},{"b":"d7","k":0.86,"e":-2.05},{"b":"d7","k":1,"e":-2.13},
{"b":"d8","k":0,"e":-1.6},{"b":"d8","k":0.09,"e":-1.62},{"b":"d8","k":0.176,"e":-1.65},{"b":"d8","k":0.28,"e":-1.75},{"b":"d8","k":0.38,"e":-1.7},{"b":"d8","k":0.482,"e":-1.6},{"b":"d8","k":0.6,"e":-1.7},{"b":"d8","k":0.72,"e":-1.85},{"b":"d8","k":0.86,"e":-2.0},{"b":"d8","k":1,"e":-2.05},
{"b":"d9","k":0,"e":-1.72},{"b":"d9","k":0.09,"e":-1.78},{"b":"d9","k":0.176,"e":-1.88},{"b":"d9","k":0.26,"e":-2.08},{"b":"d9","k":0.33,"e":-2.18},{"b":"d9","k":0.4,"e":-1.95},{"b":"d9","k":0.482,"e":-1.65},{"b":"d9","k":0.6,"e":-1.8},{"b":"d9","k":0.72,"e":-1.95},{"b":"d9","k":0.86,"e":-2.15},{"b":"d9","k":1,"e":-2.24},
{"b":"d10","k":0,"e":-1.65},{"b":"d10","k":0.09,"e":-1.68},{"b":"d10","k":0.176,"e":-1.75},{"b":"d10","k":0.28,"e":-1.85},{"b":"d10","k":0.38,"e":-1.9},{"b":"d10","k":0.482,"e":-1.95},{"b":"d10","k":0.6,"e":-1.95},{"b":"d10","k":0.72,"e":-1.95},{"b":"d10","k":0.86,"e":-1.9},{"b":"d10","k":1,"e":-1.8}
],
"down": [
{"b":"r1","k":0,"e":0.42},{"b":"r1","k":0.09,"e":0.42},{"b":"r1","k":0.176,"e":0.42},{"b":"r1","k":0.28,"e":0.32},{"b":"r1","k":0.38,"e":0.22},{"b":"r1","k":0.482,"e":0.2},{"b":"r1","k":0.6,"e":0.2},{"b":"r1","k":0.72,"e":0.19},{"b":"r1","k":0.86,"e":0.18},{"b":"r1","k":1,"e":0.18},
{"b":"r2","k":0,"e":0.36},{"b":"r2","k":0.09,"e":0.36},{"b":"r2","k":0.176,"e":0.37},{"b":"r2","k":0.28,"e":0.28},{"b":"r2","k":0.38,"e":0.18},{"b":"r2","k":0.482,"e":0.15},{"b":"r2","k":0.6,"e":0.14},{"b":"r2","k":0.72,"e":0.12},{"b":"r2","k":0.86,"e":0.1},{"b":"r2","k":1,"e":0.1},
{"b":"r3","k":0,"e":0.22},{"b":"r3","k":0.09,"e":0.12},{"b":"r3","k":0.176,"e":0.04},{"b":"r3","k":0.28,"e":0.02},{"b":"r3","k":0.38,"e":-0.02},{"b":"r3","k":0.482,"e":-0.05},{"b":"r3","k":0.6,"e":-0.04},{"b":"r3","k":0.72,"e":-0.03},{"b":"r3","k":0.86,"e":-0.02},{"b":"r3","k":1,"e":-0.02},
{"b":"r4","k":0,"e":0.0},{"b":"r4","k":0.09,"e":0.0},{"b":"r4","k":0.176,"e":0.0},{"b":"r4","k":0.28,"e":-0.02},{"b":"r4","k":0.38,"e":-0.06},{"b":"r4","k":0.482,"e":-0.1},{"b":"r4","k":0.6,"e":-0.1},{"b":"r4","k":0.72,"e":-0.1},{"b":"r4","k":0.86,"e":-0.1},{"b":"r4","k":1,"e":-0.1},
{"b":"r5","k":0,"e":-0.62},{"b":"r5","k":0.09,"e":-0.62},{"b":"r5","k":0.176,"e":-0.62},{"b":"r5","k":0.28,"e":-0.6},{"b":"r5","k":0.38,"e":-0.58},{"b":"r5","k":0.482,"e":-0.55},{"b":"r5","k":0.6,"e":-0.6},{"b":"r5","k":0.72,"e":-0.68},{"b":"r5","k":0.86,"e":-0.75},{"b":"r5","k":1,"e":-0.78},
{"b":"r6","k":0,"e":-0.66},{"b":"r6","k":0.09,"e":-0.66},{"b":"r6","k":0.176,"e":-0.66},{"b":"r6","k":0.28,"e":-0.64},{"b":"r6","k":0.38,"e":-0.62},{"b":"r6","k":0.482,"e":-0.6},{"b":"r6","k":0.6,"e":-0.64},{"b":"r6","k":0.72,"e":-0.7},{"b":"r6","k":0.86,"e":-0.77},{"b":"r6","k":1,"e":-0.8},
{"b":"r7","k":0,"e":-1.15},{"b":"r7","k":0.09,"e":-1.15},{"b":"r7","k":0.176,"e":-1.17},{"b":"r7","k":0.28,"e":-1.25},{"b":"r7","k":0.38,"e":-1.35},{"b":"r7","k":0.482,"e":-1.45},{"b":"r7","k":0.6,"e":-1.5},{"b":"r7","k":0.72,"e":-1.52},{"b":"r7","k":0.86,"e":-1.55},{"b":"r7","k":1,"e":-1.58},
{"b":"r8","k":0,"e":-1.2},{"b":"r8","k":0.09,"e":-1.2},{"b":"r8","k":0.176,"e":-1.22},{"b":"r8","k":0.28,"e":-1.3},{"b":"r8","k":0.38,"e":-1.42},{"b":"r8","k":0.482,"e":-1.52},{"b":"r8","k":0.6,"e":-1.55},{"b":"r8","k":0.72,"e":-1.6},{"b":"r8","k":0.86,"e":-1.65},{"b":"r8","k":1,"e":-1.68},
{"b":"r9","k":0,"e":-1.18},{"b":"r9","k":0.09,"e":-1.45},{"b":"r9","k":0.176,"e":-1.8},{"b":"r9","k":0.26,"e":-1.95},{"b":"r9","k":0.33,"e":-2.02},{"b":"r9","k":0.4,"e":-1.85},{"b":"r9","k":0.482,"e":-1.58},{"b":"r9","k":0.6,"e":-1.65},{"b":"r9","k":0.72,"e":-1.8},{"b":"r9","k":0.86,"e":-2.0},{"b":"r9","k":1,"e":-2.2},
{"b":"r10","k":0,"e":-1.42},{"b":"r10","k":0.09,"e":-1.45},{"b":"r10","k":0.176,"e":-1.55},{"b":"r10","k":0.28,"e":-1.7},{"b":"r10","k":0.38,"e":-1.8},{"b":"r10","k":0.482,"e":-1.65},{"b":"r10","k":0.6,"e":-1.68},{"b":"r10","k":0.72,"e":-1.72},{"b":"r10","k":0.86,"e":-1.75},{"b":"r10","k":1,"e":-1.78},
{"b":"r11","k":0,"e":-1.55},{"b":"r11","k":0.09,"e":-1.58},{"b":"r11","k":0.176,"e":-1.65},{"b":"r11","k":0.28,"e":-1.75},{"b":"r11","k":0.38,"e":-1.85},{"b":"r11","k":0.482,"e":-1.68},{"b":"r11","k":0.6,"e":-1.75},{"b":"r11","k":0.72,"e":-1.85},{"b":"r11","k":0.86,"e":-2.05},{"b":"r11","k":1,"e":-2.15},
{"b":"r12","k":0,"e":-1.65},{"b":"r12","k":0.09,"e":-1.7},{"b":"r12","k":0.176,"e":-1.75},{"b":"r12","k":0.28,"e":-1.9},{"b":"r12","k":0.38,"e":-1.95},{"b":"r12","k":0.482,"e":-1.7},{"b":"r12","k":0.6,"e":-1.8},{"b":"r12","k":0.72,"e":-1.9},{"b":"r12","k":0.86,"e":-1.85},{"b":"r12","k":1,"e":-1.75}
],
"sym": [{"k":0.176},{"k":0.482}]
},
"hconcat": [
{
 "width": 523, "height": 412,
 "title": {"text": "ZnSe:Ni, spin-up states", "offset": 11, "dx": -25},
 "layer": [
  {"data": {"name": "host"},
   "mark": {"type": "line", "color": "black", "strokeWidth": 2.5, "interpolate": "monotone", "clip": true},
   "encoding": {
    "x": {"field": "k", "type": "quantitative", "scale": {"domain": [0, 1], "nice": false, "zero": false},
          "axis": {"values": [0, 0.176, 0.482, 1], "labelExpr": "datum.value == 0 ? 'Γ' : datum.value < 0.3 ? 'X' : datum.value < 0.6 ? 'Y' : 'Z'", "ticks": false, "title": null, "labelPadding": 3, "labelFlush": false}},
    "y": {"field": "e", "type": "quantitative", "scale": {"domain": [-6, 6.5], "nice": false, "zero": false},
          "axis": {"values": [-6, -4, -2, 0, 2, 4, 6], "title": "Energy (eV)", "tickSize": 6, "labelPadding": 3, "titlePadding": 8}},
    "detail": {"field": "b"}}},
  {"data": {"name": "up"},
   "mark": {"type": "line", "color": "#0000ff", "strokeWidth": 2.5, "interpolate": "monotone", "clip": true},
   "encoding": {"x": {"field": "k", "type": "quantitative"}, "y": {"field": "e", "type": "quantitative"}, "detail": {"field": "b"}}},
  {"data": {"name": "sym"},
   "mark": {"type": "rule", "color": "#0000ff", "strokeWidth": 1},
   "encoding": {"x": {"field": "k", "type": "quantitative"}}},
  {"data": {"values": [{}]},
   "mark": {"type": "rule", "color": "green", "strokeWidth": 2.5, "strokeDash": [2.5, 4.5]},
   "encoding": {"y": {"datum": 0}}},
  {"data": {"values": [{}]},
   "mark": {"type": "rect", "color": "white"},
   "encoding": {"x": {"datum": 0.93}, "x2": {"datum": 0.99}, "y": {"datum": -0.3}, "y2": {"datum": 0.35}}},
  {"data": {"values": [{}]},
   "mark": {"type": "text", "text": "ε", "font": "DejaVu Sans", "fontSize": 22, "align": "center", "baseline": "middle", "color": "black"},
   "encoding": {"x": {"datum": 0.956}, "y": {"datum": 0}}},
  {"data": {"values": [{}]},
   "mark": {"type": "text", "text": "F", "font": "DejaVu Sans", "fontSize": 14, "align": "center", "baseline": "middle", "dy": 6, "color": "black"},
   "encoding": {"x": {"datum": 0.978}, "y": {"datum": 0}}}
 ]
},
{
 "width": 530, "height": 412,
 "title": {"text": "ZnSe:Ni, spin-down states", "offset": 11, "dx": -25},
 "layer": [
  {"data": {"name": "host"},
   "mark": {"type": "line", "color": "#ff0000", "strokeWidth": 2.5, "interpolate": "monotone", "clip": true},
   "encoding": {
    "x": {"field": "k", "type": "quantitative", "scale": {"domain": [0, 1], "nice": false, "zero": false},
          "axis": {"values": [0, 0.176, 0.482, 1], "labelExpr": "datum.value == 0 ? 'Γ' : datum.value < 0.3 ? 'X' : datum.value < 0.6 ? 'Y' : 'Z'", "ticks": false, "title": null, "labelPadding": 3, "labelFlush": true}},
    "y": {"field": "e", "type": "quantitative", "scale": {"domain": [-6, 6.5], "nice": false, "zero": false},
          "axis": {"values": [-6, -4, -2, 0, 2, 4, 6], "title": "Energy (eV)", "tickSize": 6, "labelPadding": 3, "titlePadding": 8}},
    "detail": {"field": "b"}}},
  {"data": {"name": "down"},
   "mark": {"type": "line", "color": "#0000ff", "strokeWidth": 2.5, "interpolate": "monotone", "clip": true},
   "encoding": {"x": {"field": "k", "type": "quantitative"}, "y": {"field": "e", "type": "quantitative"}, "detail": {"field": "b"}}},
  {"data": {"name": "sym"},
   "mark": {"type": "rule", "color": "#0000ff", "strokeWidth": 1},
   "encoding": {"x": {"field": "k", "type": "quantitative"}}},
  {"data": {"values": [{}]},
   "mark": {"type": "rule", "color": "green", "strokeWidth": 2.5, "strokeDash": [2.5, 4.5]},
   "encoding": {"y": {"datum": 0}}},
  {"data": {"values": [{}]},
   "mark": {"type": "rect", "color": "white"},
   "encoding": {"x": {"datum": 0.928}, "x2": {"datum": 0.983}, "y": {"datum": -0.3}, "y2": {"datum": 0.35}}},
  {"data": {"values": [{}]},
   "mark": {"type": "text", "text": "ε", "font": "DejaVu Sans", "fontSize": 22, "align": "center", "baseline": "middle", "color": "black"},
   "encoding": {"x": {"datum": 0.948}, "y": {"datum": 0}}},
  {"data": {"values": [{}]},
   "mark": {"type": "text", "text": "F", "font": "DejaVu Sans", "fontSize": 14, "align": "center", "baseline": "middle", "dy": 6, "color": "black"},
   "encoding": {"x": {"datum": 0.968}, "y": {"datum": 0}}}
 ]
}
]
}
